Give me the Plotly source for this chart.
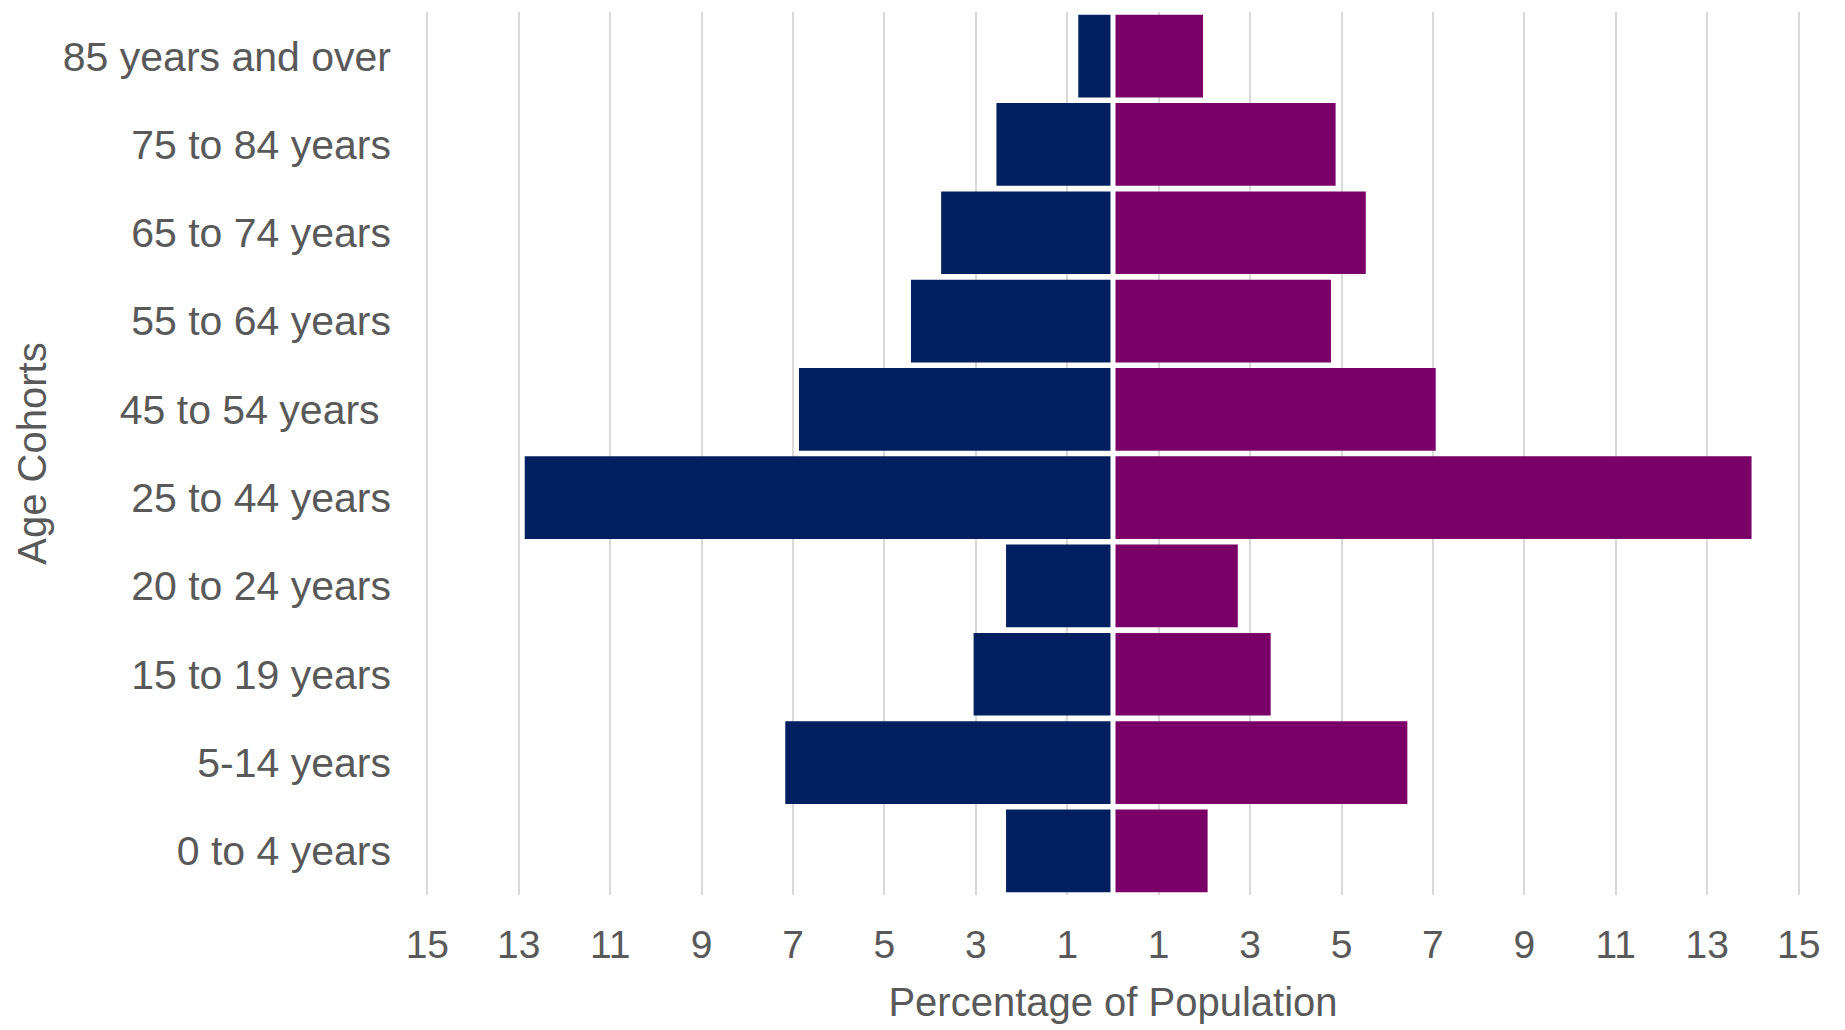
import plotly.graph_objects as go

# Age cohorts, listed bottom to top
cohorts = [
    "0 to 4 years",
    "5-14 years",
    "15 to 19 years",
    "20 to 24 years",
    "25 to 44 years",
    "45 to 54 years\u00a0",
    "55 to 64 years",
    "65 to 74 years",
    "75 to 84 years",
    "85 years and over",
]

# Share of total population (%) by sex
male_pct = [2.34, 7.17, 3.05, 2.34, 12.87, 6.87, 4.42, 3.76, 2.55, 0.76]
female_pct = [2.07, 6.44, 3.45, 2.73, 13.97, 7.06, 4.77, 5.53, 4.87, 1.97]

# Symmetric ticks: odd values on both sides, labelled without sign
tick_vals = [-15, -13, -11, -9, -7, -5, -3, -1, 1, 3, 5, 7, 9, 11, 13, 15]
tick_text = [str(abs(v)) for v in tick_vals]

NAVY = "#022060"
PLUM = "#7A0068"
TEXT = "#595959"
GRID = "#D9D9D9"
FONT = "Liberation Sans, Arial, sans-serif"

fig = go.Figure()
fig.add_trace(go.Bar(
    y=cohorts, x=[-v for v in male_pct], orientation="h",
    name="Male", marker=dict(color=NAVY, line=dict(width=0)),
))
fig.add_trace(go.Bar(
    y=cohorts, x=female_pct, orientation="h",
    name="Female", marker=dict(color=PLUM, line=dict(width=0)),
))

# White divider between the two halves of the pyramid
fig.add_shape(
    type="line", xref="x", yref="paper", x0=0, x1=0, y0=0, y1=1,
    line=dict(color="white", width=5), layer="above",
)

fig.update_layout(
    width=1845, height=1030,
    margin=dict(l=426, r=45, t=12, b=135),
    barmode="relative", bargap=0.063,
    plot_bgcolor="white", paper_bgcolor="white",
    showlegend=False,
    font=dict(family=FONT, size=41, color=TEXT),
    xaxis=dict(
        range=[-15.03, 15.03], tickvals=tick_vals, ticktext=tick_text,
        showgrid=True, gridcolor=GRID, gridwidth=1.5,
        zeroline=False, showline=False, ticks="",
        ticklabelstandoff=23,
        tickfont=dict(size=39, color=TEXT),
        title=dict(text="Percentage of Population", standoff=22,
                   font=dict(size=40, color=TEXT)),
    ),
    yaxis=dict(
        type="category", categoryorder="array", categoryarray=cohorts,
        showgrid=False, zeroline=False, showline=False, ticks="",
        ticklabelstandoff=34,
        tickfont=dict(size=41, color=TEXT),
        title=dict(text="Age Cohorts", standoff=3,
                   font=dict(size=40, color=TEXT)),
    ),
)

fig.write_html("out.html")
